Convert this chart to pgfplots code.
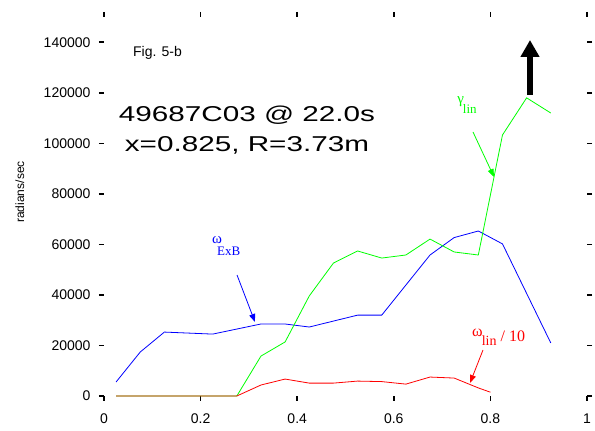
\documentclass[border=0pt]{standalone}
\usepackage{fontspec}
\setmainfont{Liberation Sans}
\newfontfamily\serif{Liberation Serif}
\usepackage{pgfplots}
\pgfplotsset{compat=1.18}
\usetikzlibrary{arrows.meta}

\begin{document}
\begin{tikzpicture}
% page frame: 595 x 431, axis box starts at (0,0)
\path (-104pt,-35pt) rectangle (491pt,396pt);
\begin{axis}[
    scale only axis,
    width=483pt, height=379pt,
    xmin=0, xmax=1,
    ymin=0, ymax=150000,
    clip=false,
    axis line style={draw=none},
    tick align=outside,
    major tick length=5pt,
    every tick/.style={black, line width=1.6pt},
    xtick={0,0.2,0.4,0.6,0.8,1},
    ytick={0,20000,40000,60000,80000,100000,120000,140000},
    scaled y ticks=false,
    ticklabel style={font=\fontsize{14}{16}\selectfont},
    /pgf/number format/assume math mode=true,
    yticklabel style={/pgf/number format/fixed, /pgf/number format/1000 sep={}, xshift=-5pt},
    xticklabel style={/pgf/number format/fixed, yshift=-9pt},
]

% omega_ExB
\addplot[blue, line width=0.8pt] coordinates {
    (0.025,5540) (0.075,17400) (0.125,25300) (0.225,24500) (0.325,28500)
    (0.375,28500) (0.425,27300) (0.525,32000) (0.575,32000) (0.675,55800)
    (0.725,62700) (0.775,65300) (0.825,60200) (0.925,21000)
};

% gamma_lin
\addplot[green, line width=0.8pt] coordinates {
    (0.025,0) (0.075,0) (0.125,0) (0.175,0) (0.225,0) (0.275,0)
    (0.325,15800) (0.375,21400) (0.425,39600) (0.475,52600) (0.525,57400)
    (0.575,54600) (0.625,55800) (0.675,62100) (0.725,57000) (0.775,55800)
    (0.825,103300) (0.875,118000) (0.925,112000)
};

% omega_lin / 10
\addplot[red, line width=0.8pt] coordinates {
    (0.025,0) (0.075,0) (0.125,0) (0.175,0) (0.225,0) (0.275,0)
    (0.325,4350) (0.375,6700) (0.425,5100) (0.475,5100) (0.525,5900)
    (0.575,5700) (0.625,4700) (0.675,7500) (0.725,7100) (0.775,3200)
    (0.8,1500)
};

% labels
\node[rotate=90] at (axis cs:-0.174,80740) {\fontsize{12}{14}\selectfont radians/sec};
\node[anchor=base west, inner sep=0] at (axis cs:0.060,134200)
    {\fontsize{14}{16}\selectfont Fig. 5-b};
\node[anchor=base, inner sep=0] at (axis cs:0.296,108450)
    {\scalebox{1.38}[1]{\fontsize{21.5}{24}\selectfont 49687C03 @ 22.0s}};
\node[anchor=base, inner sep=0] at (axis cs:0.296,96575)
    {\scalebox{1.38}[1]{\fontsize{21.5}{24}\selectfont x=0.825, R=3.73m}};

\node[anchor=base west, inner sep=0, text=green] at (axis cs:0.731,115600)
    {\serif\fontsize{15}{17}\selectfont γ\kern-1pt\raisebox{-10pt}{\fontsize{13}{15}\selectfont lin}};
\node[anchor=base west, inner sep=0, text=blue] at (axis cs:0.2236,60160)
    {\serif\fontsize{15}{17}\selectfont ω\kern-5pt\raisebox{-12pt}{\fontsize{13}{15}\selectfont ExB}};
\node[anchor=base west, inner sep=0, text=red] at (axis cs:0.762,23350)
    {\serif\fontsize{16}{18}\selectfont ω\kern-1pt\raisebox{-9pt}{\fontsize{14}{16}\selectfont lin}\raisebox{-4pt}{ / 10}};

% annotation arrows
\draw[green, line width=0.8pt, -{Triangle[length=8pt,width=6pt]}]
    (axis cs:0.764,104490) -- (axis cs:0.8075,86680);
\draw[blue, line width=0.8pt, -{Triangle[length=8pt,width=6pt]}]
    (axis cs:0.2754,47890) -- (axis cs:0.3126,29290);
\draw[red, line width=0.8pt, -{Triangle[length=8pt,width=6pt]}]
    (axis cs:0.7847,18210) -- (axis cs:0.7578,5145);
\draw[black, line width=6pt, -{Triangle[length=17pt,width=18pt]}]
    (axis cs:0.882,119100) -- (axis cs:0.882,140900);

\end{axis}
\end{tikzpicture}
\end{document}
